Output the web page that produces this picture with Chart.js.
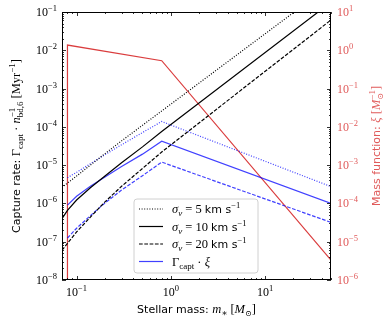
<!DOCTYPE html>
<html><head><meta charset="utf-8">
<script src="https://cdn.jsdelivr.net/npm/chart.js@4.4.1/dist/chart.umd.min.js"></script>
<style>html,body{margin:0;padding:0;background:#fff;}#wrap{width:391px;height:324px;}</style>
</head><body><div id="wrap"><canvas id="c" width="391" height="324"></canvas></div>
<script>
// ---- data ----
const massGrid = [0.07, 0.08, 0.1, 0.14, 0.2, 0.3, 0.5, 0.8, 50];
const rateSigma5  = [2.6e-6, 3.4e-6, 5.2e-6, 1.0e-5, 2.0e-5, 4.3e-5, 1.1e-4, 2.6e-4, 0.52];
const rateSigma10 = [4.0e-7, 6.6e-7, 1.23e-6, 2.57e-6, 5.2e-6, 1.15e-5, 3.0e-5, 7.6e-5, 0.18];
const rateSigma20 = [6.0e-8, 9.1e-8, 1.8e-7, 4.4e-7, 1.1e-6, 2.8e-6, 8.2e-6, 2.2e-5, 0.062];

const weightedMass = [0.08, 0.1, 0.14, 0.2, 0.3, 0.5, 0.8, 50];
const weightedSigma5  = [4.7e-6, 6.5e-6, 1.09e-5, 1.88e-5, 3.4e-5, 7.1e-5, 1.38e-4, 2.75e-6];
const weightedSigma10 = [9.0e-7, 1.54e-6, 2.8e-6, 4.9e-6, 9.2e-6, 1.94e-5, 4.2e-5, 1.0e-6];
const weightedSigma20 = [1.25e-7, 2.25e-7, 4.8e-7, 1.03e-6, 2.24e-6, 5.3e-6, 1.2e-5, 3.2e-7];

const massFnMass = [0.08, 0.08, 0.8, 50];
const massFnXi   = [1e-9, 1.37, 0.535, 3.3e-6];

const xTickExponents = [-1, 0, 1];
const leftTickExponents = [-8, -7, -6, -5, -4, -3, -2, -1];
const rightTickExponents = [-6, -5, -4, -3, -2, -1, 0, 1];
const legendLabels = ['5', '10', '20'];

// ---- helpers ----
const pts = (xs, ys) => xs.map((x, i) => ({x, y: ys[i]}));
const SERIF = '"Liberation Serif", "DejaVu Serif", serif';
const SANS = '"DejaVu Sans", sans-serif';
const RED = 'rgba(214,39,40,0.9)';
const RED_TXT = '#e05a5a';
const BLUE = 'rgba(0,0,255,0.75)';
function seg(t, o) { return Object.assign({t: t, size: 12, dy: 0}, o || {}); }
function fontOf(s) { return (s.it ? 'italic ' : '') + s.size + 'px ' + (s.fam === 'sans' ? SANS : SERIF); }
function segW(ctx, s) {
  if (s.stack) return Math.max.apply(null, s.stack.map(q => segW(ctx, q)));
  ctx.font = fontOf(s); return ctx.measureText(s.t).width;
}
function drawRich(ctx, segs, x, y, align, color) {
  let w = 0; segs.forEach(s => w += segW(ctx, s));
  let cx = align === 'center' ? x - w / 2 : align === 'right' ? x - w : x;
  ctx.fillStyle = color || '#000'; ctx.textBaseline = 'alphabetic'; ctx.textAlign = 'left';
  segs.forEach(s => {
    const parts = s.stack ? s.stack : [s];
    parts.forEach(p => { ctx.font = fontOf(p); ctx.fillText(p.t, cx, y - p.dy); });
    cx += segW(ctx, s);
  });
}
function expLabel(e) {
  const sup = (e < 0 ? '\u2212' : '') + Math.abs(e);
  return [seg('10', {size: 12}), seg(sup, {size: 8.5, dy: 5})];
}
function logTicks(min, max) {
  const out = [];
  for (let e = Math.floor(Math.log10(min)); e <= Math.ceil(Math.log10(max)); e++) {
    for (let k = 1; k <= 9; k++) {
      const v = k * Math.pow(10, e);
      if (v >= min * (1 - 1e-9) && v <= max * (1 + 1e-9)) out.push({v: v, major: k === 1});
    }
  }
  return out;
}

const decor = {
  id: 'decor',
  afterDatasetsDraw(chart) {
    const ctx = chart.ctx, a = chart.chartArea;
    const sx = chart.scales.x, sy = chart.scales.y, sy2 = chart.scales.y2;
    ctx.save();
    // frame
    ctx.strokeStyle = '#000'; ctx.lineWidth = 1;
    ctx.strokeRect(Math.round(a.left) + 0.5, Math.round(a.top) + 0.5, Math.round(a.right - a.left) - 1, Math.round(a.bottom - a.top) - 1);
    ctx.lineWidth = 0.8;
    // x ticks (bottom and top, inward)
    logTicks(sx.min, sx.max).forEach(t => {
      const px = Math.round(sx.getPixelForValue(t.v)) + 0.5, L = t.major ? 4 : 2;
      ctx.beginPath(); ctx.moveTo(px, a.bottom); ctx.lineTo(px, a.bottom - L);
      ctx.moveTo(px, a.top); ctx.lineTo(px, a.top + L); ctx.stroke();
    });
    logTicks(sy.min, sy.max).forEach(t => {
      const py = Math.round(sy.getPixelForValue(t.v)) + 0.5, L = t.major ? 4 : 2;
      ctx.beginPath(); ctx.moveTo(a.left, py); ctx.lineTo(a.left + L, py); ctx.stroke();
    });
    logTicks(sy2.min, sy2.max).forEach(t => {
      const py = Math.round(sy2.getPixelForValue(t.v)) + 0.5, L = t.major ? 4 : 2;
      ctx.beginPath(); ctx.moveTo(a.right, py); ctx.lineTo(a.right - L, py); ctx.stroke();
    });
    // tick labels
    xTickExponents.forEach(e => {
      drawRich(ctx, expLabel(e), sx.getPixelForValue(Math.pow(10, e)), a.bottom + 16, 'center');
    });
    leftTickExponents.forEach(e => {
      drawRich(ctx, expLabel(e), a.left - 5, sy.getPixelForValue(Math.pow(10, e)) + 4, 'right');
    });
    rightTickExponents.forEach(e => {
      drawRich(ctx, expLabel(e), a.right + 6, sy2.getPixelForValue(Math.pow(10, e)) + 4, 'left', RED_TXT);
    });
    // axis titles
    const cxm = (a.left + a.right) / 2, cym = (a.top + a.bottom) / 2;
    drawRich(ctx, [seg('Stellar mass: ', {fam: 'sans', size: 11}), seg('m', {it: 1, size: 12.5}), seg('\u2217', {size: 9, dy: -3}),
      seg(' [', {size: 12.5}), seg('M', {it: 1, size: 12.5}), seg('\u2299', {size: 8, dy: -3}), seg(']', {size: 12.5})], cxm, 313, 'center');
    ctx.save(); ctx.translate(20, cym); ctx.rotate(-Math.PI / 2);
    drawRich(ctx, [seg('Capture rate: ', {fam: 'sans', size: 11}), seg('\u0393', {size: 12.5}), seg('capt', {size: 9, dy: -3}),
      seg(' \u00b7 ', {size: 12.5}), seg('n', {it: 1, size: 12.5}),
      {stack: [seg('\u22121', {size: 9, dy: 5}), seg('bd,6', {size: 9, dy: -3})]},
      seg(' [Myr', {size: 12.5}), seg('\u22121', {size: 9, dy: 5}), seg(']', {size: 12.5})], 0, 0, 'center');
    ctx.restore();
    ctx.save(); ctx.translate(380, cym); ctx.rotate(-Math.PI / 2);
    drawRich(ctx, [seg('Mass function: ', {fam: 'sans', size: 11}), seg('\u03be', {it: 1, size: 12.5}), seg(' [', {size: 12.5}),
      seg('M', {it: 1, size: 12.5}), {stack: [seg('\u22121', {size: 9, dy: 5}), seg('\u2299', {size: 8, dy: -3})]},
      seg(']', {size: 12.5})], 0, 0, 'center', RED_TXT);
    ctx.restore();
    // legend
    const lx = 134, ly = 199, lw = 124, lh = 74, r = 3;
    ctx.beginPath();
    ctx.moveTo(lx + r, ly); ctx.lineTo(lx + lw - r, ly); ctx.quadraticCurveTo(lx + lw, ly, lx + lw, ly + r);
    ctx.lineTo(lx + lw, ly + lh - r); ctx.quadraticCurveTo(lx + lw, ly + lh, lx + lw - r, ly + lh);
    ctx.lineTo(lx + r, ly + lh); ctx.quadraticCurveTo(lx, ly + lh, lx, ly + lh - r);
    ctx.lineTo(lx, ly + r); ctx.quadraticCurveTo(lx, ly, lx + r, ly); ctx.closePath();
    ctx.fillStyle = 'rgba(255,255,255,0.85)'; ctx.fill();
    ctx.strokeStyle = '#d0d0d0'; ctx.lineWidth = 1; ctx.stroke();
    const rows = [209, 226.5, 244, 261.5];
    const dashes = [[1, 1.6], [], [3.7, 1.6], []];
    const cols = ['#000', '#000', '#000', BLUE];
    rows.forEach((ry, i) => {
      ctx.beginPath(); ctx.setLineDash(dashes[i]); ctx.strokeStyle = cols[i]; ctx.lineWidth = 1.2;
      ctx.moveTo(139, ry); ctx.lineTo(163, ry); ctx.stroke(); ctx.setLineDash([]);
      let segs;
      if (i < 3) {
        segs = [seg('\u03c3', {it: 1, size: 12.5}), seg('v', {it: 1, size: 9, dy: -3}), seg(' = ' + legendLabels[i] + ' ', {size: 12.5}),
          seg('km s', {fam: 'sans', size: 11}), seg('\u22121', {size: 8.5, dy: 5})];
      } else {
        segs = [seg('\u0393', {size: 12.5}), seg('capt', {size: 9, dy: -3}), seg(' \u00b7 ', {size: 12.5}), seg('\u03be', {it: 1, size: 12.5})];
      }
      drawRich(ctx, segs, 172, ry + 4, 'left');
    });
    ctx.restore();
  }
};

const common = {pointRadius: 0, borderWidth: 1.2, tension: 0, fill: false};
new Chart(document.getElementById('c'), {
  type: 'line',
  data: {
    datasets: [
      Object.assign({label: 'sigma5', data: pts(massGrid, rateSigma5), borderColor: '#000', borderDash: [1, 1.6], yAxisID: 'y'}, common),
      Object.assign({label: 'sigma10', data: pts(massGrid, rateSigma10), borderColor: '#000', yAxisID: 'y'}, common),
      Object.assign({label: 'sigma20', data: pts(massGrid, rateSigma20), borderColor: '#000', borderDash: [3.7, 1.6], yAxisID: 'y'}, common),
      Object.assign({label: 'w5', data: pts(weightedMass, weightedSigma5), borderColor: BLUE, borderDash: [1, 1.6], yAxisID: 'y'}, common),
      Object.assign({label: 'w10', data: pts(weightedMass, weightedSigma10), borderColor: BLUE, yAxisID: 'y'}, common),
      Object.assign({label: 'w20', data: pts(weightedMass, weightedSigma20), borderColor: BLUE, borderDash: [3.7, 1.6], yAxisID: 'y'}, common),
      Object.assign({label: 'xi', data: pts(massFnMass, massFnXi), borderColor: RED, yAxisID: 'y2'}, common)
    ]
  },
  options: {
    responsive: false, animation: false, devicePixelRatio: 1,
    layout: {padding: {top: 12, left: 0, right: 0, bottom: 0}},
    plugins: {legend: {display: false}, tooltip: {enabled: false}},
    scales: {
      x: {type: 'logarithmic', min: 0.07, max: 50, ticks: {display: false}, grid: {display: false}, border: {display: false},
          afterFit: s => { s.height = 44; }},
      y: {type: 'logarithmic', position: 'left', min: 1e-8, max: 1e-1, ticks: {display: false}, grid: {display: false}, border: {display: false},
          afterFit: s => { s.width = 62; }},
      y2: {type: 'logarithmic', position: 'right', min: 1e-6, max: 10, ticks: {display: false}, grid: {display: false}, border: {display: false},
          afterFit: s => { s.width = 60; }}
    }
  },
  plugins: [decor]
});
</script></body></html>
